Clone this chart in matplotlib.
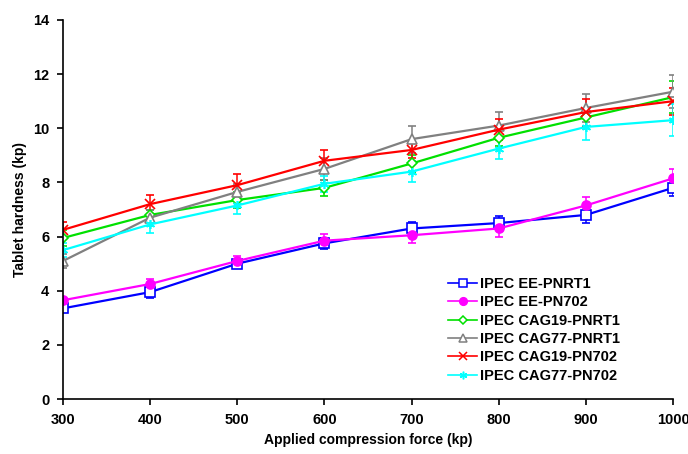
import matplotlib

matplotlib.use("Agg")
import matplotlib.pyplot as plt
from matplotlib.lines import Line2D

plt.rcParams["font.family"] = ["Liberation Sans", "DejaVu Sans"]
plt.rcParams["font.weight"] = "bold"

force = [300, 400, 500, 600, 700, 800, 900, 1000]

ee_pnrt1 = [3.35, 3.95, 5.0, 5.75, 6.3, 6.5, 6.8, 7.8]
ee_pnrt1_err = [0.15, 0.2, 0.15, 0.2, 0.25, 0.25, 0.3, 0.3]
ee_pn702 = [3.65, 4.25, 5.1, 5.85, 6.05, 6.3, 7.15, 8.15]
ee_pn702_err = [0.1, 0.2, 0.2, 0.25, 0.3, 0.3, 0.3, 0.35]
cag19_pnrt1 = [5.95, 6.8, 7.35, 7.8, 8.7, 9.65, 10.4, 11.15]
cag19_pnrt1_err = [0.3, 0.2, 0.3, 0.3, 0.3, 0.3, 0.3, 0.6]
cag77_pnrt1 = [5.1, 6.7, 7.65, 8.5, 9.6, 10.1, 10.75, 11.35]
cag77_pnrt1_err = [0.25, 0.3, 0.3, 0.4, 0.5, 0.5, 0.5, 0.6]
cag19_pn702 = [6.25, 7.2, 7.9, 8.8, 9.2, 9.95, 10.6, 11.0]
cag19_pn702_err = [0.3, 0.35, 0.4, 0.4, 0.3, 0.4, 0.5, 0.5]
cag77_pn702 = [5.5, 6.45, 7.15, 7.95, 8.4, 9.25, 10.05, 10.3]
cag77_pn702_err = [0.25, 0.3, 0.3, 0.3, 0.4, 0.4, 0.5, 0.6]

series = [
    ("IPEC EE-PNRT1", ee_pnrt1, ee_pnrt1_err, "#0000ff", "s", "white"),
    ("IPEC EE-PN702", ee_pn702, ee_pn702_err, "#ff00ff", "o", "#ff00ff"),
    ("IPEC CAG19-PNRT1", cag19_pnrt1, cag19_pnrt1_err, "#00e000", "D", "white"),
    ("IPEC CAG77-PNRT1", cag77_pnrt1, cag77_pnrt1_err, "#808080", "^", "white"),
    ("IPEC CAG19-PN702", cag19_pn702, cag19_pn702_err, "#ff0000", "x", "none"),
    ("IPEC CAG77-PN702", cag77_pn702, cag77_pn702_err, "#00ffff", (6, 2, 0), "none"),
]

fig = plt.figure(figsize=(6.88, 4.54), dpi=100)
ax = fig.add_axes([0.0916, 0.121, 0.8866, 0.835])

pos = list(range(len(force)))
handles = []
for label, vals, err, color, marker, face in series:
    ms = 6.5 if marker != "D" else 5.5
    ax.errorbar(pos, vals, yerr=err, color=color, lw=1.6, marker=marker,
                markersize=ms, markerfacecolor=face,
                markeredgecolor=color, markeredgewidth=1.2,
                ecolor=color, elinewidth=1.1, capsize=3, capthick=1.1)
    # legend shows line + marker only, no error bar
    handles.append(Line2D([], [], color=color, lw=1.2, marker=marker, markersize=ms - 1,
                          markerfacecolor=face, markeredgecolor=color,
                          markeredgewidth=1.1, label=label))

ax.set_xlim(0, len(force) - 1)
ax.set_ylim(0, 14)
ax.set_xticks(pos)
ax.set_xticklabels([str(f) for f in force])
ax.set_yticks(range(0, 15, 2))
ax.spines["top"].set_visible(False)
ax.spines["right"].set_visible(False)
ax.spines["left"].set_linewidth(1.2)
ax.spines["bottom"].set_linewidth(1.2)
ax.tick_params(direction="out", length=4, width=1.2, labelsize=10.5, pad=6)
for lbl in ax.get_xticklabels() + ax.get_yticklabels():
    lbl.set_fontweight("bold")
ax.set_xlabel("Applied compression force (kp)", fontsize=10, fontweight="bold", labelpad=4)
ax.set_ylabel("Tablet hardness (kp)", fontsize=10, fontweight="bold", labelpad=4)

leg = ax.legend(handles=handles, loc="upper left", bbox_to_anchor=(0.631, 0.322),
                frameon=False, fontsize=10.5, handlelength=2.0, handletextpad=0.2,
                labelspacing=0.3, borderaxespad=0, borderpad=0)
for t in leg.get_texts():
    t.set_fontweight("bold")

fig.savefig("out.png", dpi=100)
